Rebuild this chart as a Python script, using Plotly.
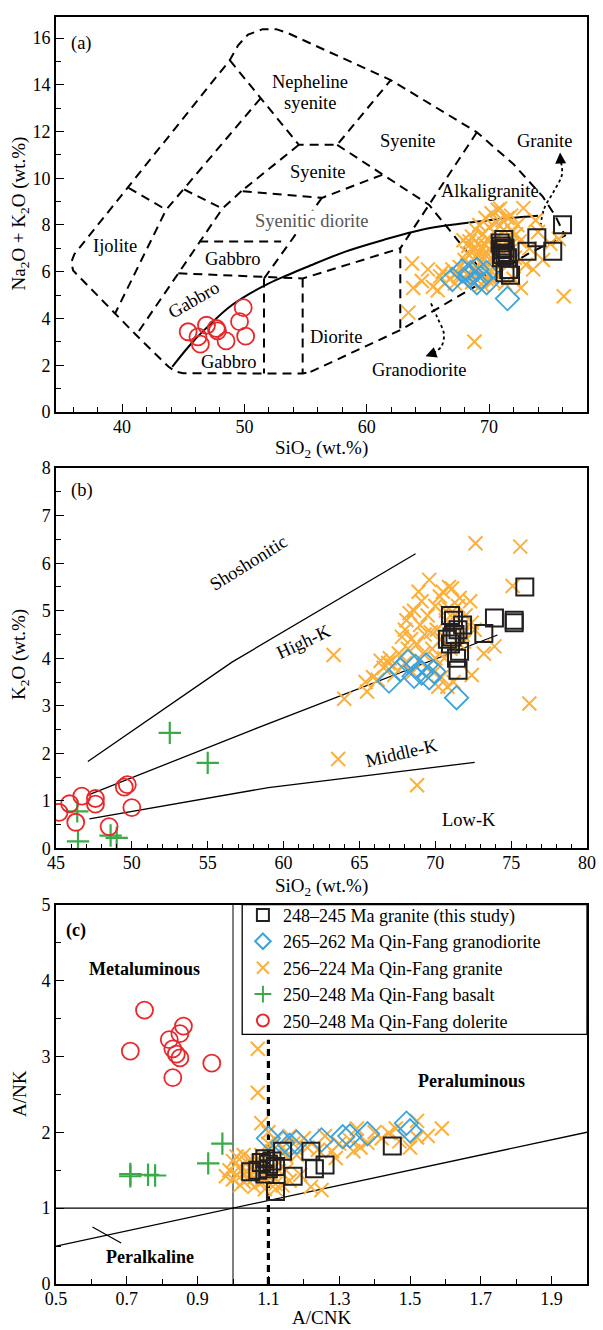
import plotly.graph_objects as go

FONT = "'Liberation Serif', 'Times New Roman', 'DejaVu Serif', serif"
BLACK = "#231f20"
ORANGE = "#fbb03b"
BLUE = "#3fa2da"
GREEN = "#3aaa48"
RED = "#e8282b"

# ---------------- Panel (a): TAS (Na2O+K2O vs SiO2) ----------------
a_sq_sio2 = [70.9, 71.0, 71.1, 71.2, 71.3, 71.3, 71.0, 71.1, 71.5, 71.6, 71.75, 71.3, 73.9, 76.0, 75.2, 73.1]
a_sq_alk = [7.23, 7.10, 6.95, 7.38, 7.02, 6.80, 6.60, 6.74, 6.60, 6.10, 5.85, 5.96, 7.45, 8.01, 6.88, 6.88]

a_grd_sio2 = [67.0, 67.8, 68.4, 68.5, 69.0, 69.0, 69.3, 69.8, 69.8, 71.5]
a_grd_alk = [5.67, 6.03, 5.80, 5.96, 6.10, 5.53, 5.74, 5.96, 5.53, 4.85]

a_gr_sio2 = [63.7, 63.8, 63.4, 65.4, 65.8, 66.2, 66.8, 66.4, 67.0, 67.3, 67.6, 67.9, 68.8, 76.1,
             68.0, 68.2, 68.3, 68.5, 68.6, 68.7, 68.9, 69.0, 69.1, 69.2, 69.3, 69.4, 69.5, 69.6,
             69.7, 69.8, 69.9, 70.0, 70.1, 70.2, 70.3, 70.4, 70.5, 70.6, 70.7, 70.8, 70.9, 71.0,
             71.1, 71.2, 71.4, 71.5, 71.7, 71.9, 72.1, 72.3, 72.5, 72.8, 73.0, 73.3, 73.6, 74.0,
             74.4, 75.0, 75.7, 67.2, 67.5, 68.0, 68.3, 68.6, 69.0, 69.4, 69.8, 70.3, 70.8, 71.3,
             72.0, 72.6, 68.4, 68.8, 69.2, 69.6, 70.0, 70.4, 70.8, 69.5, 70.2, 69.0, 70.6, 71.8,
             72.2, 73.8, 66.0, 64.5, 65.0]
a_gr_alk = [6.35, 5.30, 4.25, 5.35, 5.20, 6.00, 5.70, 5.50, 6.10, 5.90, 6.20, 7.35, 3.00, 4.95,
            6.50, 6.80, 7.10, 6.30, 7.50, 6.90, 7.80, 6.60, 7.20, 8.00, 6.40, 7.00, 7.60, 6.20,
            8.30, 6.80, 7.40, 7.90, 6.50, 8.50, 7.10, 7.70, 6.30, 8.10, 8.65, 7.50, 8.70, 6.90,
            8.20, 7.80, 6.40, 8.30, 7.10, 7.70, 6.60, 8.00, 7.30, 8.72, 6.30, 7.00, 6.10, 7.70,
            6.50, 7.20, 7.40, 5.50, 5.80, 5.70, 5.95, 5.55, 5.90, 5.45, 5.70, 5.60, 5.90, 5.50,
            5.70, 5.30, 7.30, 7.00, 6.80, 7.20, 7.00, 6.70, 7.20, 6.50, 6.00, 6.20, 6.60, 8.40,
            7.60, 8.20, 5.80, 5.60, 6.10]

a_dol_sio2 = [45.4, 46.2, 46.4, 46.9, 47.7, 47.8, 48.5, 49.6, 49.9, 50.1]
a_dol_alk = [3.43, 3.21, 2.90, 3.71, 3.57, 3.47, 3.04, 3.86, 4.46, 3.24]

# field boundaries (dashed), each a polyline
tas_outer_x = [55.4, 62.74, 68.84, 73.1, 76.2, 75.4, 74.4, 72.0, 69.0, 61.96, 53.6, 52.6, 51.5, 50.3, 49.5, 48.8,
               36.1, 35.85, 36.0, 39.43, 41.15, 43.8, 44.4, 45.0, 54.76, 55.4]
tas_outer_y = [1.71, 3.5, 5.36, 6.74, 7.55, 8.4, 9.2, 10.6, 11.97, 14.2, 16.2, 16.38, 16.38, 16.15, 15.7, 15.05,
               6.75, 6.4, 6.05, 4.21, 3.29, 1.93, 1.72, 1.66, 1.64, 1.71]
tas_nephsy_x = [48.8, 54.45, 57.58, 61.96]
tas_nephsy_y = [15.05, 11.43, 11.43, 14.2]
tas_syen_x = [57.58, 61.33, 65.1, 67.93, 69.8]
tas_syen_y = [11.43, 10.16, 8.86, 7.02, 5.75]
tas_alkg_x = [69.0, 65.1, 62.74, 62.74]
tas_alkg_y = [11.97, 8.86, 7.0, 3.5]
tas_small_x = [54.45, 49.76, 56.33, 61.33]
tas_small_y = [11.43, 9.45, 9.16, 10.16]
tas_gab_x = [49.76, 48.2, 44.6, 41.15]
tas_gab_y = [9.45, 8.7, 5.93, 3.29]
tas_ijo_x = [51.32, 43.6, 39.43]
tas_ijo_y = [13.42, 8.65, 4.21]
tas_d_x = [40.53, 43.6]
tas_d_y = [9.59, 8.65]
tas_c_x = [45.07, 48.2]
tas_c_y = [9.52, 8.7]
tas_long_x = [56.33, 51.6]
tas_long_y = [9.16, 5.71]
tas_box_x = [46.3, 53.0]
tas_box_y = [7.29, 7.29]
tas_h_x = [44.6, 54.76, 62.74]
tas_h_y = [5.93, 5.71, 7.0]
tas_v1_x = [51.6, 51.6]
tas_v1_y = [5.71, 1.64]
tas_v2_x = [54.76, 54.76]
tas_v2_y = [5.71, 1.64]

# alkaline / subalkaline curve (solid)
ib_x = [44.1, 45.7, 47.3, 48.8, 50.4, 52.0, 53.5, 55.1, 58.2, 61.3, 64.5, 67.6, 70.7, 74.0]
ib_y = [1.93, 2.95, 3.80, 4.50, 5.05, 5.50, 5.85, 6.20, 6.85, 7.35, 7.80, 8.05, 8.25, 8.40]

# dotted pointer curves
granite_arrow_x = [74.2, 74.5, 75.3, 75.95, 75.85]
granite_arrow_y = [7.95, 8.7, 9.45, 10.15, 10.75]
grano_arrow_x = [65.25, 65.8, 66.3, 66.1, 65.3]
grano_arrow_y = [4.65, 4.0, 3.35, 2.8, 2.48]

a_labels = [("Nepheline", 55.4, 14.13, 0), ("syenite", 55.4, 13.23, 0), ("Syenite", 63.4, 11.6, 0),
            ("Syenite", 56.0, 10.26, 0), ("Alkaligranite", 70.1, 9.45, 0), ("Granite", 74.5, 11.6, 0),
            ("Ijolite", 39.4, 7.1, 0), ("Gabbro", 49.0, 6.53, 0), ("Gabbro", 45.85, 4.8, -30),
            ("Gabbro", 48.7, 2.14, 0), ("Diorite", 57.5, 3.19, 0), ("Granodiorite", 64.3, 1.79, 0)]

# ---------------- Panel (b): K2O vs SiO2 ----------------
b_sq_sio2 = [71.0, 71.2, 71.5, 70.8, 71.0, 71.4, 71.5, 73.2, 73.9, 75.2, 75.2, 75.9, 71.8, 71.3, 71.1, 71.6]
b_sq_k2o = [4.90, 4.80, 4.60, 4.40, 4.30, 4.00, 3.75, 4.52, 4.85, 4.80, 4.75, 5.50, 4.70, 4.50, 4.45, 4.15]

b_grd_sio2 = [66.95, 67.7, 68.2, 68.6, 68.7, 69.1, 69.4, 69.6, 69.9, 71.4]
b_grd_k2o = [3.52, 3.76, 3.93, 3.62, 3.83, 3.69, 3.86, 3.59, 3.72, 3.17]

b_gr_sio2 = [63.3, 64.0, 63.6, 68.8, 76.2, 72.65, 75.6, 75.1, 73.2, 73.9, 72.4,
             65.5, 65.4, 65.9, 66.2, 66.6, 66.9, 67.3, 67.0, 67.6, 68.0, 68.2,
             68.0, 68.1, 68.4, 68.6, 68.8, 69.0, 69.1, 69.3, 69.5, 69.6, 69.8, 70.0, 70.1, 70.2,
             70.3, 70.4, 70.5, 70.6, 70.7, 70.8, 70.9, 71.0, 71.1, 71.3, 71.5, 71.6, 71.8, 72.0,
             72.3, 72.6, 72.4, 69.4, 69.9, 70.4, 71.2, 68.5, 69.2, 70.0, 71.6, 68.9, 70.7, 67.8,
             68.3, 69.7, 70.9, 71.9, 66.4, 67.2]
b_gr_k2o = [4.07, 3.15, 1.88, 1.33, 3.05, 6.42, 6.35, 5.52, 4.10, 4.25, 3.65,
            3.30, 3.50, 3.60, 3.55, 3.80, 3.90, 3.65, 4.00, 4.10, 3.90, 4.20,
            4.60, 4.80, 4.40, 5.00, 4.30, 4.70, 5.20, 4.50, 4.90, 5.65, 4.20, 5.10, 4.60, 3.40,
            5.30, 4.40, 5.40, 4.00, 4.80, 3.40, 5.50, 4.20, 5.47, 4.90, 5.10, 5.27, 4.50, 4.90,
            5.20, 4.60, 4.75, 3.80, 3.70, 3.60, 3.50, 3.70, 4.10, 4.00, 4.30, 5.40, 5.00, 4.45,
            4.95, 4.55, 5.05, 4.35, 3.95, 3.85]

b_bas_sio2 = [46.4, 46.45, 48.6, 49.0, 52.5, 55.0]
b_bas_k2o = [0.78, 0.15, 0.27, 0.22, 2.43, 1.80]

b_dol_sio2 = [45.2, 45.9, 46.3, 46.7, 47.6, 47.6, 48.5, 49.5, 49.7, 50.0]
b_dol_k2o = [0.76, 0.94, 0.55, 1.10, 1.05, 0.93, 0.46, 1.29, 1.34, 0.86]

shosh_x = [47.1, 56.6, 68.7]
shosh_y = [1.83, 3.92, 6.20]
highk_x = [47.1, 58.0, 74.1]
highk_y = [1.12, 2.50, 4.49]
medk_x = [47.2, 59.0, 72.6]
medk_y = [0.62, 1.28, 1.81]

b_labels = [("Shoshonitic", 57.7, 6.0, -32), ("High-K", 61.3, 4.35, -25),
            ("Middle-K", 67.8, 2.0, -13), ("Low-K", 72.2, 0.6, 0)]

# ---------------- Panel (c): A/NK vs A/CNK ----------------
c_sq_acnk = [1.05, 1.07, 1.08, 1.09, 1.10, 1.10, 1.11, 1.12, 1.12, 1.14, 1.17, 1.22, 1.23, 1.26, 1.45, 1.09]
c_sq_ank = [1.48, 1.50, 1.60, 1.65, 1.58, 1.52, 1.62, 1.55, 1.22, 1.75, 1.42, 1.75, 1.52, 1.57, 1.82, 1.45]

c_grd_acnk = [1.10, 1.14, 1.16, 1.18, 1.25, 1.31, 1.33, 1.38, 1.49, 1.50]
c_grd_ank = [1.92, 1.86, 1.83, 1.87, 1.90, 1.94, 1.95, 1.98, 2.12, 2.02]

c_gr_acnk = [1.07, 1.07, 1.08, 1.10, 1.59, 1.52, 1.52, 1.22, 1.25, 1.47, 1.44, 1.42, 1.38, 1.35,
             1.34, 1.29, 1.24, 1.20, 1.19, 1.16, 1.13, 1.30, 1.26, 1.33, 1.40, 1.46, 1.50, 1.55,
             1.28, 1.36, 1.00, 1.01, 0.98, 1.02, 1.03, 1.04, 1.05, 1.06, 1.07, 1.08, 1.09, 1.10,
             1.11, 1.12, 1.13, 1.14, 1.15, 1.02, 1.04, 1.06, 1.08, 1.10, 1.05, 1.03, 1.00, 0.99,
             1.01, 1.07, 1.09, 1.11, 1.12, 1.05, 1.04, 1.06, 1.03, 1.08, 1.18, 1.17, 1.16, 1.21,
             1.12, 1.14, 1.09, 1.15]
c_gr_ank = [3.10, 2.52, 2.12, 2.00, 2.05, 1.93, 2.15, 1.28, 1.24, 1.88, 1.99, 1.92, 1.86, 2.05,
            1.75, 1.66, 1.77, 1.92, 1.44, 1.36, 1.49, 1.85, 1.95, 1.90, 2.00, 2.05, 1.80, 1.95,
            1.75, 1.80, 1.62, 1.44, 1.42, 1.55, 1.35, 1.48, 1.65, 1.40, 1.55, 1.70, 1.38, 1.50,
            1.75, 1.32, 1.60, 1.80, 1.68, 1.30, 1.60, 1.28, 1.45, 1.85, 1.52, 1.70, 1.38, 1.50,
            1.68, 1.62, 1.58, 1.42, 1.90, 1.42, 1.38, 1.50, 1.46, 1.34, 1.70, 1.85, 1.95, 1.80,
            1.25, 1.30, 1.25, 1.50]

c_bas_acnk = [0.71, 0.71, 0.76, 0.78, 0.93, 0.97]
c_bas_ank = [1.42, 1.45, 1.44, 1.43, 1.59, 1.85]

c_dol_acnk = [0.71, 0.75, 0.82, 0.83, 0.84, 0.85, 0.86, 0.83, 0.85, 0.94]
c_dol_ank = [3.07, 3.61, 3.22, 3.10, 3.03, 3.30, 3.40, 2.72, 2.98, 2.91]

c_labels = [("Metaluminous", 0.75, 4.15), ("Peraluminous", 1.675, 2.68), ("Peralkaline", 0.766, 0.36)]

series_names = ["248–245 Ma granite (this study)", "265–262 Ma Qin-Fang granodiorite",
                "256–224 Ma Qin-Fang granite", "250–248 Ma Qin-Fang basalt",
                "250–248 Ma Qin-Fang dolerite"]

# ---------------- figure ----------------
fig = go.Figure()

def line(xs, ys, xa, ya, dash=None, width=2.0, color="black", shape="linear"):
    fig.add_trace(go.Scatter(x=xs, y=ys, xaxis=xa, yaxis=ya, mode="lines", showlegend=False,
                             hoverinfo="skip",
                             line=dict(color=color, width=width, dash=dash, shape=shape)))

DASH = "9px,6px"
for xs, ys in [(tas_outer_x, tas_outer_y), (tas_nephsy_x, tas_nephsy_y), (tas_syen_x, tas_syen_y),
               (tas_alkg_x, tas_alkg_y), (tas_small_x, tas_small_y), (tas_gab_x, tas_gab_y),
               (tas_ijo_x, tas_ijo_y), (tas_d_x, tas_d_y), (tas_c_x, tas_c_y),
               (tas_long_x, tas_long_y), (tas_box_x, tas_box_y), (tas_h_x, tas_h_y),
               (tas_v1_x, tas_v1_y), (tas_v2_x, tas_v2_y)]:
    line(xs, ys, "x", "y", dash=DASH, width=2)
line(ib_x, ib_y, "x", "y", width=2, shape="spline")
line(granite_arrow_x, granite_arrow_y, "x", "y", width=1.8, dash="dot", shape="spline")
line(grano_arrow_x, grano_arrow_y, "x", "y", width=1.8, dash="dot", shape="spline")

line(shosh_x, shosh_y, "x2", "y2", width=1.3)
line(highk_x, highk_y, "x2", "y2", width=1.3)
line(medk_x, medk_y, "x2", "y2", width=1.3)

line([0.5, 2.0], [1, 1], "x3", "y3", width=1.2)
line([1.0, 1.0], [0, 5], "x3", "y3", width=1.0)
line([0.5, 2.0], [0.5, 2.0], "x3", "y3", width=1.3)
line([1.1, 1.1], [0, 3.22], "x3", "y3", width=3.2, dash="7px,5px")
line([0.603, 0.684], [0.75, 0.54], "x3", "y3", width=1.2)

def markers(xs, ys, xa, ya, kind, legend):
    idx = ["sq", "dia", "x", "plus", "circ"].index(kind)
    if kind == "sq":
        m = dict(symbol="square-open", size=17, color=BLACK, line=dict(color=BLACK, width=2))
    elif kind == "dia":
        m = dict(symbol="diamond-open", size=18, color=BLUE, line=dict(color=BLUE, width=1.8))
    elif kind == "x":
        m = dict(symbol="x-thin", size=14, color=ORANGE, line=dict(color=ORANGE, width=2))
    elif kind == "plus":
        m = dict(symbol="cross-thin", size=16, color=GREEN, line=dict(color=GREEN, width=2.2))
    else:
        m = dict(symbol="circle-open", size=17, color=RED, line=dict(color=RED, width=1.8))
    fig.add_trace(go.Scatter(x=xs, y=ys, xaxis=xa, yaxis=ya, mode="markers", marker=m,
                             name=series_names[idx], legendgroup=kind, legendrank=idx + 1,
                             showlegend=legend))

# panel a
markers(a_gr_sio2, a_gr_alk, "x", "y", "x", False)
markers(a_grd_sio2, a_grd_alk, "x", "y", "dia", False)
markers(a_sq_sio2, a_sq_alk, "x", "y", "sq", False)
markers(a_dol_sio2, a_dol_alk, "x", "y", "circ", False)
# panel b
markers(b_gr_sio2, b_gr_k2o, "x2", "y2", "x", False)
markers(b_grd_sio2, b_grd_k2o, "x2", "y2", "dia", False)
markers(b_sq_sio2, b_sq_k2o, "x2", "y2", "sq", False)
markers(b_bas_sio2, b_bas_k2o, "x2", "y2", "plus", False)
markers(b_dol_sio2, b_dol_k2o, "x2", "y2", "circ", False)
# panel c
markers(c_gr_acnk, c_gr_ank, "x3", "y3", "x", True)
markers(c_grd_acnk, c_grd_ank, "x3", "y3", "dia", True)
markers(c_sq_acnk, c_sq_ank, "x3", "y3", "sq", True)
markers(c_bas_acnk, c_bas_ank, "x3", "y3", "plus", True)
markers(c_dol_acnk, c_dol_ank, "x3", "y3", "circ", True)

ann = []
LF = dict(family=FONT, size=18.5, color="black")
TF = dict(family=FONT, size=19, color="black")
for t, x, y, ang in a_labels:
    ann.append(dict(text=t, x=x, y=y, xref="x", yref="y", showarrow=False, textangle=ang, font=LF))
ann.append(dict(text="Syenitic diorite", x=55.5, y=8.19, xref="x", yref="y", showarrow=False,
                bgcolor="white", borderpad=0,
                font=dict(family=FONT, size=18.5, color="#555555")))
ann.append(dict(text="(a)", x=36.7, y=15.78, xref="x", yref="y", showarrow=False, font=LF))
# arrowheads of the dotted pointers
ann.append(dict(text="", x=75.8, y=11.1, ax=75.85, ay=10.6, xref="x", yref="y", axref="x", ayref="y",
                showarrow=True, arrowhead=2, arrowsize=1.1, arrowwidth=2, arrowcolor="black"))
ann.append(dict(text="", x=64.8, y=2.38, ax=65.4, ay=2.5, xref="x", yref="y", axref="x", ayref="y",
                showarrow=True, arrowhead=2, arrowsize=1.1, arrowwidth=2, arrowcolor="black"))
for t, x, y, ang in b_labels:
    ann.append(dict(text=t, x=x, y=y, xref="x2", yref="y2", showarrow=False, textangle=ang, font=LF))
ann.append(dict(text="(b)", x=46.7, y=7.54, xref="x2", yref="y2", showarrow=False, font=LF))
BF = dict(family=FONT, size=18, color="black")
for t, x, y in c_labels:
    ann.append(dict(text="<b>" + t + "</b>", x=x, y=y, xref="x3", yref="y3", showarrow=False, font=BF))
ann.append(dict(text="<b>(c)</b>", x=0.557, y=4.66, xref="x3", yref="y3", showarrow=False, font=BF))

# axis titles
YT = -0.0677
C = dict(xref="paper", yref="paper", showarrow=False, font=TF, xanchor="center", yanchor="middle")
ann += [
    dict(text="SiO<sub>2</sub> (wt.%)", x=0.5, y=0.6588, **C),
    dict(text="SiO<sub>2</sub> (wt.%)", x=0.5, y=0.3133, **C),
    dict(text="A/CNK", x=0.5, y=-0.0265, **C),
    dict(text="Na<sub>2</sub>O + K<sub>2</sub>O (wt.%)", x=YT, y=0.845, textangle=-90, **C),
    dict(text="K<sub>2</sub>O (wt.%)", x=YT, y=0.4965, textangle=-90, **C),
    dict(text="A/NK", x=YT, y=0.150, textangle=-90, **C),
]

shapes = [dict(type="rect", xref="x3", yref="y3", x0=1.026, x1=2.0, y0=3.29, y1=5.0,
               line=dict(color="black", width=1.3), fillcolor="white", layer="below")]

TICKF = dict(family=FONT, size=18, color="black")

def axis(domain, anchor, rng, dtick, tick0, minor_dtick, lw, standoff=0):
    return dict(domain=domain, anchor=anchor, range=rng, dtick=dtick, tick0=tick0,
                ticks="inside", ticklen=8, tickwidth=1.4, tickcolor="black",
                ticklabelstandoff=standoff,
                minor=dict(dtick=minor_dtick, tick0=tick0, ticks="inside", ticklen=5,
                           tickwidth=1.2, tickcolor="black"),
                showline=True, mirror=True, linecolor="black", linewidth=lw,
                showgrid=False, zeroline=False, tickfont=TICKF, fixedrange=True)

fig.update_layout(
    width=603, height=1330,
    margin=dict(l=56, r=15, t=7, b=46),
    paper_bgcolor="white", plot_bgcolor="white",
    font=dict(family=FONT, size=18, color="black"),
    xaxis=axis([0, 1], "y", [34.6, 78], 10, 0, 2, 2, -3),
    yaxis=axis([0.6883, 1.0], "x", [0, 16.9], 2, 0, 1, 2),
    xaxis2=axis([0, 1], "y2", [45, 80], 5, 0, 1, 1.5, -3),
    yaxis2=axis([0.3438, 0.6439], "x2", [0, 8], 1, 0, 0.5, 1.5),
    xaxis3=axis([0, 1], "y3", [0.5, 2.0], 0.2, 0.5, 0.1, 1.8, -3),
    yaxis3=axis([0, 0.2994], "x3", [0, 5], 1, 0, 0.5, 1.8),
    legend=dict(x=0.352, y=0.3057, xanchor="left", yanchor="top", bgcolor="rgba(0,0,0,0)",
                borderwidth=0, font=dict(family=FONT, size=18, color="black"),
                tracegroupgap=0, itemsizing="constant"),
    annotations=ann, shapes=shapes, showlegend=True,
)

fig.write_html("out.html", config={"displayModeBar": False},
               post_script="document.body.style.margin='0';document.body.style.padding='0';"
                           "document.body.style.overflow='hidden';")
